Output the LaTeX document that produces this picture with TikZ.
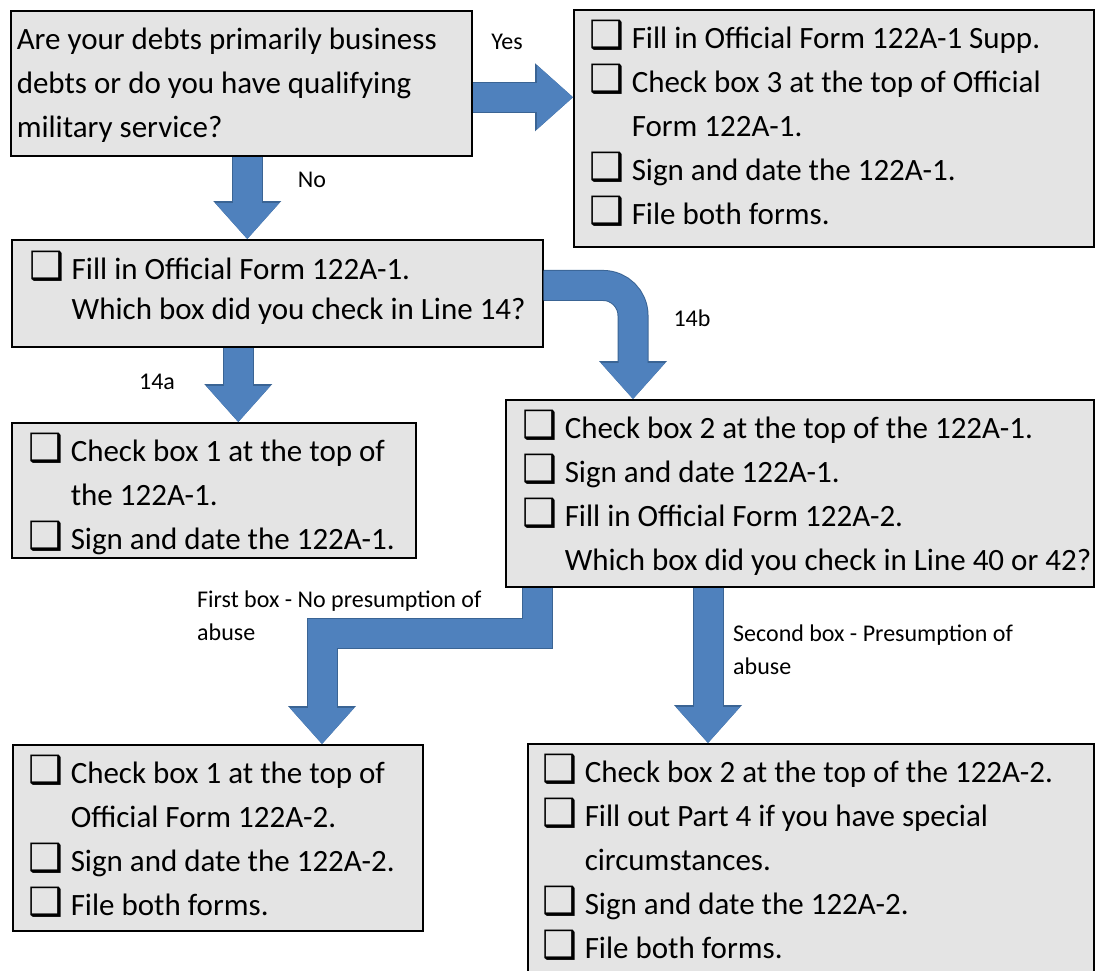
\documentclass[tikz,border=0pt]{standalone}
\usepackage{fontspec}
\setmainfont{Carlito}
\newfontfamily\symfont{DejaVu Sans}
\usepackage{tikz}
\usetikzlibrary{arrows.meta}

\definecolor{arrowblue}{HTML}{4F81BD}
\definecolor{arrowedge}{HTML}{3A6494}
\definecolor{cardgray}{HTML}{E4E4E4}
\newcommand\chk{\makebox[42pt][l]{\symfont\fontsize{39}{39}\selectfont ❑}}

\begin{document}
\begin{tikzpicture}[x=1pt, y=-1pt,
    card/.style={draw=black, line width=1.5pt, fill=cardgray, anchor=north west,
        inner ysep=8.2pt, font=\fontsize{31}{44}\selectfont,
        execute at begin node={\spaceskip=0pt\relax}},
    flow/.style={draw=arrowblue, line width=29pt,
        -{Triangle[length=36pt, width=64pt, line width=0pt]},
        preaction={draw=arrowedge, line width=31pt,
            -{Triangle[length=38pt, width=68pt, line width=0pt]}}},
    tag/.style={font=\fontsize{24}{33}\selectfont, align=left, inner sep=0pt}]

\useasboundingbox (0,0) rectangle (1101,970);

% boxes
\node[card, inner xsep=6pt, text width=449pt, text depth=97.8pt] (q) at (10,10)
    {\begin{tabular}[t]{@{}l@{}}
     Are your debts primarily business\\
     debts or do you have qualifying\\
     military service?
     \end{tabular}};
\node[card, inner xsep=16pt, text width=488pt, text depth=189.8pt] (yes) at (573,9)
    {\begin{tabular}[t]{@{}l@{}l@{}}
     \chk & Fill in Official Form 122A-1 Supp.\\
     \chk & Check box 3 at the top of Official\\
          & Form 122A-1.\\
     \chk & Sign and date the 122A-1.\\
     \chk & File both forms.
     \end{tabular}};
\node[card, inner xsep=18pt, inner ysep=11pt, text width=495pt, text depth=57pt,
    font=\fontsize{31}{40}\selectfont] (fill) at (11,239)
    {\begin{tabular}[t]{@{}l@{}l@{}}
     \chk & Fill in Official Form 122A-1.\\
          & Which box did you check in Line 14?
     \end{tabular}};
\node[card, inner xsep=17pt, text width=370pt, text depth=87.8pt] (b14a) at (11,422)
    {\begin{tabular}[t]{@{}l@{}l@{}}
     \chk & Check box 1 at the top of\\
          & the 122A-1.\\
     \chk & Sign and date the 122A-1.
     \end{tabular}};
\node[card, inner xsep=17pt, text width=554pt, text depth=139.8pt] (b14b) at (505,399)
    {\begin{tabular}[t]{@{}l@{}l@{}}
     \chk & Check box 2 at the top of the 122A-1.\\
     \chk & Sign and date 122A-1.\\
     \chk & Fill in Official Form 122A-2.\\
          & Which box did you check in Line 40 or 42?
     \end{tabular}};
\node[card, inner xsep=16pt, text width=378pt, text depth=138.8pt] (nopres) at (12,744)
    {\begin{tabular}[t]{@{}l@{}l@{}}
     \chk & Check box 1 at the top of\\
          & Official Form 122A-2.\\
     \chk & Sign and date the 122A-2.\\
     \chk & File both forms.
     \end{tabular}};
\node[card, inner xsep=15pt, text width=536pt, text depth=189.8pt] (pres) at (527,743)
    {\begin{tabular}[t]{@{}l@{}l@{}}
     \chk & Check box 2 at the top of the 122A-2.\\
     \chk & Fill out Part 4 if you have special\\
          & circumstances.\\
     \chk & Sign and date the 122A-2.\\
     \chk & File both forms.
     \end{tabular}};

% arrows
\draw[flow] ([yshift=-14pt]q.east) -- ([yshift=-14pt]q.east -| yes.west);
\draw[flow] ([xshift=6pt]q.south) -- ([xshift=6pt]q.south |- fill.north);
\draw[flow] ([xshift=-39pt]fill.south) -- ([xshift=-39pt]fill.south |- b14a.north);
\draw[flow, rounded corners=30pt] ([yshift=8pt]fill.east) -| ([xshift=128pt]b14b.north west);
\draw[flow] ([xshift=32pt]b14b.south west) -- ++(0,46) -| ([xshift=310pt]nopres.north west);
\draw[flow] ([xshift=203pt]b14b.south west) -- ([xshift=203pt]b14b.south west |- pres.north);

% labels
\node[tag] (ylab) at (507,42) {Yes};
\node[tag] (nlab) at (312,180) {No};
\node[tag] (alab) at (157,382) {14a};
\node[tag] (blab) at (692,318) {14b};
\node[tag, anchor=west] (flab) at (197,616) {First box - No presumption of\\abuse};
\node[tag, anchor=west] (slab) at (733,650) {Second box - Presumption of\\abuse};
\end{tikzpicture}
\end{document}
